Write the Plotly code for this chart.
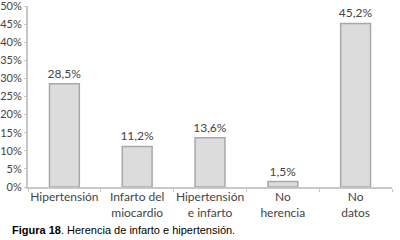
import plotly.graph_objects as go

categories = ["Hipertensión", "Infarto del<br>miocardio", "Hipertensión<br>e infarto", "No<br>herencia", "No<br>datos"]
values = [28.5, 11.2, 13.6, 1.5, 45.2]
labels = ["28,5%", "11,2%", "13,6%", "1,5%", "45,2%"]
ytick_vals = [0, 5, 10, 15, 20, 25, 30, 35, 40, 45, 50]
ytick_text = [f"{v}%" for v in ytick_vals]

font_fam = "Lato, Noto Sans, sans-serif"

fig = go.Figure(go.Bar(
    x=categories, y=values, text=labels, textposition="outside",
    textfont=dict(family=font_fam, size=12, color="#444"),
    constraintext="none",
    marker=dict(color="#dcdcdc", line=dict(color="#a8a8a8", width=1.5)),
    width=0.41, cliponaxis=False,
))

fig.update_layout(
    width=400, height=240,
    margin=dict(l=28, r=8, t=6, b=53, autoexpand=False),
    paper_bgcolor="white", plot_bgcolor="white",
    showlegend=False,
    font=dict(family=font_fam, size=12, color="#444"),
    xaxis=dict(showline=True, linecolor="#c8c8c8", linewidth=1.5,
               ticks="outside", tickson="boundaries", ticklen=3, tickcolor="#c8c8c8",
               tickangle=0, automargin=False, ticklabelstandoff=-2,
               tickfont=dict(family=font_fam, size=12, color="#444"), showgrid=False),
    yaxis=dict(range=[0, 50], tickvals=ytick_vals, ticktext=ytick_text,
               showline=True, linecolor="#c8c8c8", linewidth=2,
               ticks="outside", ticklen=2, tickcolor="#c8c8c8", ticklabelstandoff=0,
               ticklabeloverflow="allow", automargin=False,
               tickfont=dict(family=font_fam, size=11, color="#444"),
               showgrid=False, zeroline=False),
    annotations=[dict(
        text="<b>Figura 18</b>. Herencia de infarto e hipertensión.",
        xref="paper", yref="paper", x=-0.05, y=-0.238, xanchor="left", yanchor="middle",
        showarrow=False, font=dict(family="Liberation Sans, Arial, sans-serif", size=11, color="black"),
    )],
    bargap=0.59,
)

fig.write_html("out.html", config={"displayModeBar": False},
               post_script="document.body.style.margin='0';")
